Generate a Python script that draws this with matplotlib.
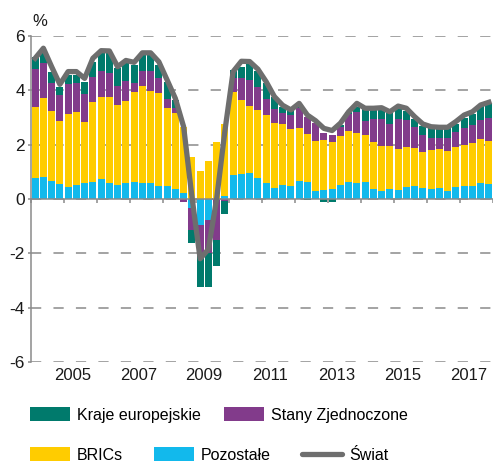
import numpy as np
import matplotlib.pyplot as plt
from matplotlib.patches import Patch
from matplotlib.lines import Line2D

plt.rcParams['font.family'] = ['Liberation Sans', 'DejaVu Sans']
plt.rcParams['axes.unicode_minus'] = False

# kwartaly 2004Q1 - 2017Q4
years = list(range(2004, 2018))
quarters = [f"{y}Q{q}" for y in years for q in range(1, 5)]

pozostale = [0.79, 0.80, 0.68, 0.55, 0.43, 0.50, 0.58, 0.64, 0.72, 0.60, 0.50, 0.58, 0.64, 0.60,
             0.58, 0.48, 0.47, 0.35, 0.23, -0.34, -0.96, -0.77, 0.00, 0.12, 0.88, 0.92, 0.94, 0.79,
             0.60, 0.42, 0.52, 0.49, 0.67, 0.61, 0.31, 0.33, 0.36, 0.52, 0.64, 0.60, 0.64, 0.37,
             0.29, 0.36, 0.33, 0.43, 0.48, 0.42, 0.36, 0.42, 0.29, 0.45, 0.49, 0.49, 0.60, 0.54]
brics = [2.61, 2.90, 2.57, 2.32, 2.71, 2.71, 2.25, 2.94, 3.02, 3.14, 2.96, 3.04, 3.29, 3.56,
         3.41, 3.41, 2.89, 2.80, 2.43, 1.53, 1.03, 1.41, 2.09, 2.63, 3.07, 2.72, 2.48, 2.49,
         2.49, 2.37, 2.24, 2.09, 1.96, 1.77, 1.84, 1.84, 1.75, 1.80, 1.86, 1.82, 1.72, 1.72,
         1.66, 1.59, 1.50, 1.50, 1.41, 1.32, 1.44, 1.43, 1.48, 1.48, 1.50, 1.56, 1.60, 1.61]
usa = [1.37, 1.29, 1.03, 0.96, 1.09, 1.05, 1.04, 0.92, 0.98, 0.91, 0.71, 0.72, 0.35, 0.55,
       0.72, 0.57, 0.32, 0.21, -0.12, -0.80, -1.10, -1.23, -1.51, -0.07, 0.51, 0.81, 0.96, 0.83,
       0.59, 0.52, 0.39, 0.51, 0.71, 0.65, 0.64, 0.27, 0.25, 0.34, 0.63, 0.79, 0.52, 0.84,
       0.98, 0.81, 1.11, 0.98, 0.75, 0.62, 0.43, 0.38, 0.46, 0.55, 0.61, 0.67, 0.71, 0.82]
europa = [0.44, 0.51, 0.41, 0.28, 0.33, 0.30, 0.45, 0.56, 0.64, 0.71, 0.64, 0.65, 0.65, 0.59,
          0.59, 0.49, 0.62, 0.28, 0.00, -0.49, -1.17, -1.23, -0.96, -0.49, 0.29, 0.42, 0.62, 0.61,
          0.60, 0.43, 0.25, 0.17, 0.11, -0.03, 0.00, -0.10, -0.12, 0.06, 0.08, 0.19, 0.42, 0.37,
          0.35, 0.42, 0.40, 0.33, 0.29, 0.33, 0.37, 0.37, 0.37, 0.28, 0.37, 0.41, 0.51, 0.55]
swiat = [5.18, 5.55, 4.87, 4.22, 4.69, 4.69, 4.44, 5.18, 5.46, 5.45, 4.87, 5.10, 5.03, 5.38,
         5.38, 5.05, 4.38, 3.70, 2.66, 0.10, -2.20, -1.85, 0.00, 2.50, 4.69, 5.07, 5.06, 4.78,
         4.32, 3.77, 3.45, 3.28, 3.52, 3.09, 2.88, 2.60, 2.52, 2.79, 3.21, 3.52, 3.34, 3.34,
         3.36, 3.21, 3.42, 3.34, 3.03, 2.76, 2.66, 2.64, 2.64, 2.85, 3.09, 3.21, 3.46, 3.56]

x = np.arange(len(quarters))

c_eu = '#007a6c'
c_us = '#823b8b'
c_br = '#ffcc00'
c_po = '#12b9ec'
c_sw = '#6e6e6e'
c_ax = '#8a8a8a'

fig = plt.figure(figsize=(4.93, 4.63), dpi=100)
ax = fig.add_axes([31/493, 1-362/463, 462/493, 326/463])

# slupki skumulowane, dodatnie w gore, ujemne w dol
pos = np.zeros(len(x))
neg = np.zeros(len(x))
for vals, col in [(pozostale, c_po), (brics, c_br), (usa, c_us), (europa, c_eu)]:
    v = np.array(vals)
    bottom = np.where(v >= 0, pos, neg)
    ax.bar(x, v, 0.85, bottom=bottom, color=col, linewidth=0, zorder=1)
    pos += np.clip(v, 0, None)
    neg += np.clip(v, None, 0)

ax.plot(x, swiat, color=c_sw, lw=3.8, solid_joinstyle='round', zorder=4)

ax.set_xlim(-0.5, len(x) - 0.5)
ax.set_ylim(-6, 6)
ax.set_yticks(np.arange(-6, 7, 2))
ax.set_axisbelow(True)
ax.yaxis.grid(True, color=c_ax, lw=1.1, linestyle=(0, (6.7, 8)))
ax.tick_params(axis='y', direction='out', length=2.5, width=1.1, color=c_ax,
               labelsize=12.5, pad=2, labelcolor='#1a1a1a')

for s in ['top', 'right', 'bottom']:
    ax.spines[s].set_visible(False)
ax.spines['left'].set_color(c_ax)
ax.spines['left'].set_linewidth(1.1)

# etykiety lat na dole
lab_years = years[1::2]
ax.set_xticks([4 * (y - 2004) + 0.5 for y in lab_years])
ax.set_xticklabels([str(y) for y in lab_years])
ax.tick_params(axis='x', length=0, labelsize=12, pad=4.5, labelcolor='#1a1a1a')

# os zerowa z kreskami na granicach lat
sec = ax.secondary_xaxis(0.5)
sec.set_alignment('bottom')
sec.set_xticks(np.arange(-0.5, len(x), 4))
sec.tick_params(axis='x', direction='out', length=3, width=1.1, color=c_ax, labelbottom=False)
sec.spines['bottom'].set_color(c_ax)
sec.spines['bottom'].set_linewidth(1.1)
sec.set_zorder(2)

fig.text(40/493, 1-21/463, '%', ha='center', va='center', fontsize=12, color='#1a1a1a')

h1 = [Patch(facecolor=c_eu), Patch(facecolor=c_us)]
fig.legend(h1, ['Kraje europejskie', 'Stany Zjednoczone'], loc='center left',
           bbox_to_anchor=(30/493, 1-415/463), ncol=2, frameon=False, fontsize=11.5,
           handlelength=2.5, handleheight=1.0, handletextpad=0.44, columnspacing=1.46,
           borderpad=0, borderaxespad=0)
h2 = [Patch(facecolor=c_br), Patch(facecolor=c_po),
      Line2D([], [], color=c_sw, lw=3.8, solid_capstyle='round')]
fig.legend(h2, ['BRICs', 'Pozostałe', 'Świat'], loc='center left',
           bbox_to_anchor=(30/493, 1-455/463), ncol=3, frameon=False, fontsize=11.5,
           handlelength=2.5, handleheight=1.0, handletextpad=0.44, columnspacing=1.95,
           borderpad=0, borderaxespad=0)

fig.savefig('out.png', dpi=100)
